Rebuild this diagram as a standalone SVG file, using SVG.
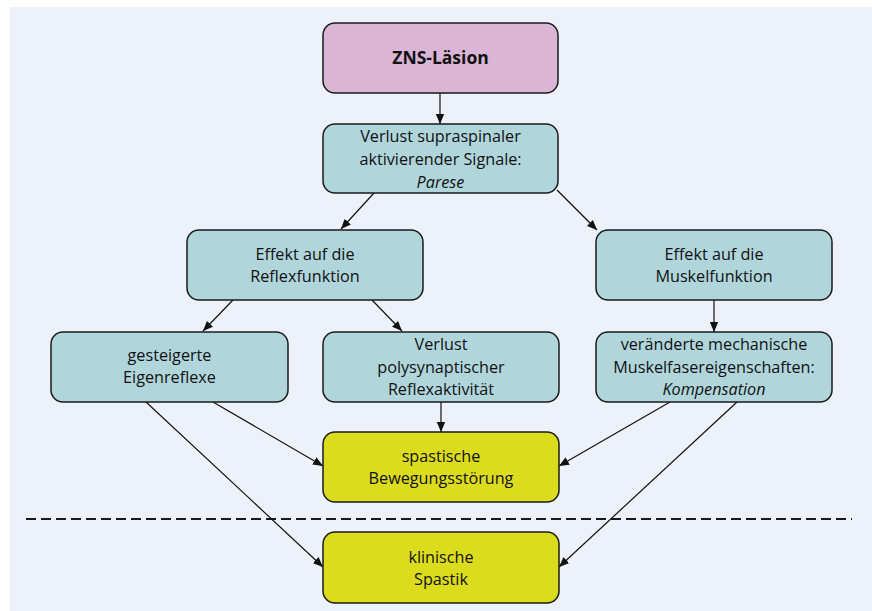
<svg xmlns="http://www.w3.org/2000/svg" width="872" height="611" viewBox="0 0 872 611">
<defs>
<marker id="ah" viewBox="0 0 10 10" refX="10" refY="5" markerWidth="10" markerHeight="10" markerUnits="userSpaceOnUse" orient="auto">
<path d="M0,0.8 L10,5 L0,9.2 Z" fill="#111"/>
</marker>
<style>
.box{stroke:#1a1a1a;stroke-width:1.5}
.pink{fill:#dbb5d6}
.teal{fill:#b0d6dc}
.yel{fill:#dcdc1e}
text{font-family:"Open Sans","Noto Sans","Liberation Sans",sans-serif;font-size:16.2px;fill:#111;text-anchor:middle}
.b{font-weight:bold;font-size:17.5px}
.i{font-style:italic}
.c{stroke:#111;stroke-width:1.2;fill:none;marker-end:url(#ah)}
</style>
</defs>
<rect x="10" y="7" width="862" height="604" fill="#edf1f9"/>
<line x1="26" y1="519" x2="852" y2="519" stroke="#1a1a1a" stroke-width="2" stroke-dasharray="10,5"/>
<g id="connectors">
<line class="c" x1="440" y1="93" x2="440" y2="124"/>
<line class="c" x1="374" y1="193" x2="341" y2="229"/>
<line class="c" x1="557" y1="190" x2="597" y2="230"/>
<line class="c" x1="233" y1="300" x2="203" y2="331"/>
<line class="c" x1="372" y1="300" x2="402" y2="331"/>
<line class="c" x1="714" y1="300" x2="714" y2="332"/>
<line class="c" x1="441" y1="402" x2="441" y2="432"/>
<line class="c" x1="213" y1="402" x2="323" y2="466"/>
<line class="c" x1="146" y1="402" x2="323" y2="567"/>
<line class="c" x1="670" y1="402" x2="559" y2="466"/>
<line class="c" x1="737" y1="402" x2="559" y2="567"/>
</g>
<g id="zns">
<rect class="box pink" x="323" y="23" width="235" height="70" rx="12"/>
<text class="b" x="440.5" y="63.5">ZNS-Läsion</text>
</g>
<g id="verlust-supra">
<rect class="box teal" x="323" y="124" width="235" height="69" rx="12"/>
<text x="440.5" y="141.5">Verlust supraspinaler</text>
<text x="440.5" y="164.5">aktivierender Signale:</text>
<text class="i" x="440.5" y="187.5">Parese</text>
</g>
<g id="effekt-reflex">
<rect class="box teal" x="187" y="230" width="236" height="70" rx="12"/>
<text x="305" y="259.5">Effekt auf die</text>
<text x="305" y="281.5">Reflexfunktion</text>
</g>
<g id="effekt-muskel">
<rect class="box teal" x="596" y="230" width="236" height="70" rx="12"/>
<text x="714" y="259.5">Effekt auf die</text>
<text x="714" y="281.5">Muskelfunktion</text>
</g>
<g id="gesteigerte">
<rect class="box teal" x="51" y="332" width="237" height="70" rx="12"/>
<text x="169.5" y="360.5">gesteigerte</text>
<text x="169.5" y="382.5">Eigenreflexe</text>
</g>
<g id="verlust-poly">
<rect class="box teal" x="323" y="332" width="236" height="70" rx="12"/>
<text x="441" y="349.5">Verlust</text>
<text x="441" y="372.5">polysynaptischer</text>
<text x="441" y="394.5">Reflexaktivität</text>
</g>
<g id="veraenderte">
<rect class="box teal" x="596" y="332" width="236" height="70" rx="12"/>
<text x="714" y="349.5">veränderte mechanische</text>
<text x="714" y="372.5">Muskelfasereigenschaften:</text>
<text class="i" x="714" y="394.5">Kompensation</text>
</g>
<g id="spastische">
<rect class="box yel" x="323" y="432" width="236" height="70" rx="12"/>
<text x="441" y="461.5">spastische</text>
<text x="441" y="483.5">Bewegungsstörung</text>
</g>
<g id="klinische">
<rect class="box yel" x="323" y="532" width="236" height="71" rx="12"/>
<text x="441" y="562.5">klinische</text>
<text x="441" y="584.5">Spastik</text>
</g>
</svg>
